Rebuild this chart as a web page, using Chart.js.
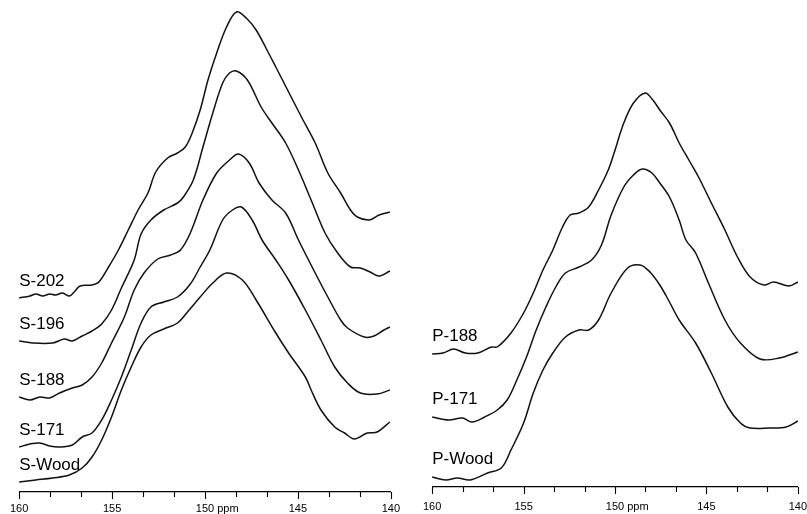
<!DOCTYPE html>
<html>
<head>
<meta charset="utf-8">
<script src="https://cdn.jsdelivr.net/npm/chart.js@4.4.0/dist/chart.umd.min.js"></script>
<style>
  html, body { margin: 0; padding: 0; background: #fff; overflow: hidden; }
  .panel { position: absolute; top: 0; width: 410px; height: 514px; }
  #leftPanel { left: 0; }
  #rightPanel { left: 410px; }
</style>
</head>
<body>
<div class="panel" id="leftPanel"><canvas id="leftChart" width="410" height="514"></canvas></div>
<div class="panel" id="rightPanel"><canvas id="rightChart" width="410" height="514"></canvas></div>
<script>
// Axis ticks (ppm)
const MAJOR_TICKS = [160, 155, 150, 145, 140];
const MINOR_STEP = 5 / 3;

// Left panel: S series (chemical shift in ppm, intensity above the axis)
const S202_PPM = [160.00, 159.42, 159.10, 158.73, 158.36, 158.04, 157.67, 157.30, 157.04, 156.72, 156.08, 155.71, 155.19, 154.66, 154.13, 153.60, 153.07, 152.65, 152.01, 151.48, 151.06, 150.69, 150.26, 149.84, 149.37, 148.84, 148.31, 147.78, 147.25, 146.72, 146.19, 145.50, 144.81, 144.07, 143.39, 142.70, 142.17, 141.80, 141.16, 140.63, 140.05];
const S202_INT = [194, 196, 198, 196, 198, 197, 199, 196, 200, 206, 207, 210, 225, 242, 262, 282, 299, 320, 334, 339, 345, 359, 382, 412, 439, 465, 480, 474, 462, 444, 425, 400, 375, 349, 319, 299, 282, 275, 272, 277, 280];

const S196_PPM = [160.00, 159.26, 158.20, 157.57, 157.14, 156.61, 156.08, 155.56, 155.03, 154.50, 153.81, 153.44, 152.91, 152.22, 151.48, 151.16, 150.63, 150.11, 149.58, 149.05, 148.68, 148.31, 147.72, 146.98, 146.40, 145.66, 144.97, 144.29, 143.54, 142.86, 142.17, 141.64, 141.11, 140.63, 140.05];
const S196_INT = [151, 149, 149, 153, 151, 156, 161, 168, 182, 204, 232, 258, 272, 282, 289, 295, 312, 345, 379, 409, 419, 421, 412, 385, 369, 349, 322, 292, 259, 239, 225, 224, 220, 216, 221];

const S188_PPM = [160.00, 159.42, 158.89, 158.36, 157.83, 157.14, 156.61, 156.08, 155.56, 155.03, 154.34, 153.81, 153.28, 152.54, 151.85, 151.32, 150.79, 150.11, 149.37, 148.68, 148.20, 147.62, 147.09, 146.40, 145.66, 144.97, 144.07, 143.39, 142.70, 142.33, 141.43, 140.90, 140.37, 140.05];
const S188_INT = [95, 92, 95, 94, 99, 104, 107, 115, 129, 149, 175, 202, 219, 233, 237, 242, 259, 292, 319, 332, 338, 329, 309, 292, 279, 252, 219, 195, 172, 164, 155, 156, 162, 165];

const S171_PPM = [160.00, 159.42, 158.89, 158.36, 157.83, 157.14, 156.61, 156.08, 155.56, 155.03, 154.50, 153.97, 153.44, 152.91, 152.22, 151.48, 150.79, 150.26, 149.74, 149.05, 148.52, 148.04, 147.46, 146.93, 146.19, 145.50, 144.60, 143.76, 143.02, 142.33, 141.64, 140.74, 140.05];
const S171_INT = [45, 48, 49, 46, 45, 47, 55, 59, 72, 92, 115, 142, 169, 185, 190, 195, 208, 225, 242, 272, 282, 285, 272, 252, 232, 212, 182, 152, 125, 109, 99, 98, 102];

const SWOOD_PPM = [160.00, 159.10, 158.20, 157.30, 156.61, 156.08, 155.56, 155.03, 154.50, 153.97, 153.44, 152.91, 152.22, 151.48, 150.90, 150.26, 149.58, 148.84, 147.99, 147.25, 146.19, 145.50, 144.60, 144.29, 143.76, 143.02, 142.49, 141.96, 141.27, 140.74, 140.05];
const SWOOD_INT = [10, 12, 14, 17, 24, 35, 52, 75, 102, 125, 145, 157, 163, 169, 181, 195, 209, 219, 212, 192, 159, 139, 115, 102, 82, 65, 59, 53, 59, 60, 70];

// Right panel: P series
const P188_PPM = [160.00, 159.41, 158.83, 158.19, 157.50, 156.76, 156.44, 155.69, 155.00, 154.47, 153.94, 153.40, 152.87, 152.45, 151.97, 151.44, 150.90, 150.37, 150.05, 149.52, 148.99, 148.35, 147.93, 147.55, 147.02, 146.49, 145.96, 145.43, 144.73, 143.99, 143.30, 142.61, 141.86, 141.33, 140.48, 140.00];
const P188_INT = [133, 134, 138, 134, 134, 140, 140, 154, 174, 194, 217, 237, 260, 272, 274, 280, 297, 317, 334, 364, 384, 394, 387, 377, 364, 344, 327, 310, 284, 257, 230, 210, 202, 205, 201, 205];

const P171_PPM = [160.00, 159.10, 158.35, 157.82, 157.13, 156.44, 155.90, 155.37, 154.84, 154.31, 153.78, 153.24, 152.71, 151.97, 151.28, 150.74, 150.21, 149.52, 148.99, 148.51, 147.98, 147.55, 147.02, 146.49, 146.12, 145.59, 144.89, 143.99, 143.14, 142.07, 141.01, 140.00];
const P171_INT = [70, 67, 69, 65, 70, 77, 87, 107, 130, 157, 180, 200, 214, 220, 227, 242, 272, 300, 312, 318, 314, 304, 290, 267, 247, 234, 204, 167, 144, 128, 129, 135];

const PWOOD_PPM = [160.00, 159.26, 158.62, 157.93, 156.97, 156.22, 155.69, 155.00, 154.47, 153.94, 153.40, 152.71, 151.97, 151.44, 150.90, 150.21, 149.31, 148.62, 148.09, 147.55, 147.02, 146.49, 145.59, 144.73, 143.83, 143.14, 142.61, 141.54, 140.64, 140.00];
const PWOOD_INT = [10, 7, 9, 7, 14, 19, 37, 64, 94, 117, 134, 150, 157, 157, 167, 194, 219, 222, 215, 202, 185, 167, 144, 114, 80, 64, 59, 59, 60, 66];

const FONT_FAMILY = '"Liberation Sans", Arial, Helvetica, sans-serif';

// Build {x, y} points for a scatter-style line dataset
function makeDataset(label, ppm, intensity) {
    return {
        label: label,
        data: ppm.map((p, i) => ({ x: p, y: intensity[i] })),
        borderColor: '#111',
        borderWidth: 1.5,
        pointRadius: 0,
        tension: 0.35,
        fill: false,
        clip: false
    };
}

// Tick list: majors every 5 ppm, minors in between
function buildTicks() {
    const ticks = [];
    for (let i = 0; i < MAJOR_TICKS.length - 1; i++) {
        const a = MAJOR_TICKS[i];
        ticks.push({ value: a, major: true });
        for (let k = 1; k < 3; k++) {
            ticks.push({ value: a - k * MINOR_STEP, major: false });
        }
    }
    ticks.push({ value: MAJOR_TICKS[MAJOR_TICKS.length - 1], major: true });
    return ticks;
}

// Tick marks, "ppm" unit and the sample names next to each trace
const spectraDecor = {
    id: 'spectraDecor',
    afterDraw(chart, args, opts) {
        const ctx = chart.ctx;
        const xs = chart.scales.x;
        const area = chart.chartArea;
        ctx.save();
        ctx.strokeStyle = '#000';
        ctx.lineWidth = 1.1;
        xs.ticks.forEach(t => {
            const px = Math.round(xs.getPixelForValue(t.value)) + 0.5;
            const len = t.major ? 7 : 5;
            ctx.beginPath();
            ctx.moveTo(px, area.bottom);
            ctx.lineTo(px, area.bottom + len);
            ctx.stroke();
        });

        // unit after the 150 label
        const items = xs.getLabelItems();
        const mid = items.find(it => it.label === '150');
        if (mid) {
            ctx.font = mid.font.string;
            ctx.fillStyle = '#000';
            ctx.textAlign = 'left';
            ctx.textBaseline = mid.options.textBaseline;
            const w = ctx.measureText('150').width;
            const tx = mid.options.translation[0] + w / 2 + 3;
            ctx.fillText('ppm', tx, mid.options.translation[1] + mid.textOffset);
        }

        // sample names
        ctx.font = '17px ' + FONT_FAMILY;
        ctx.fillStyle = '#000';
        ctx.textAlign = 'left';
        ctx.textBaseline = 'alphabetic';
        chart.data.datasets.forEach((ds, i) => {
            const first = chart.getDatasetMeta(i).data[0];
            ctx.fillText(ds.label, area.left, first.y - opts.labelGap);
        });
        ctx.restore();
    }
};

function initChart(canvasId, datasets, yMax, axisHeight, labelPad, sidePad, labelGap) {
    const ctx = document.getElementById(canvasId).getContext('2d');
    return new Chart(ctx, {
        type: 'line',
        data: { datasets: datasets },
        options: {
            responsive: false,
            animation: false,
            devicePixelRatio: 1,
            layout: {
                padding: { left: sidePad[0], right: sidePad[1], top: 0, bottom: 0 }
            },
            plugins: {
                legend: { display: false },
                tooltip: { enabled: false },
                spectraDecor: { labelGap: labelGap }
            },
            scales: {
                x: {
                    type: 'linear',
                    min: 140,
                    max: 160,
                    reverse: true,
                    afterBuildTicks: s => { s.ticks = buildTicks(); },
                    afterFit: s => { s.height = axisHeight; },
                    grid: { display: false, drawTicks: false },
                    border: { display: true, color: '#000', width: 1.2 },
                    ticks: {
                        autoSkip: false,
                        maxRotation: 0,
                        padding: labelPad,
                        color: '#000',
                        font: { family: FONT_FAMILY, size: 11 },
                        callback: (v, i, ticks) => ticks[i].major ? String(Math.round(v)) : ''
                    }
                },
                y: {
                    type: 'linear',
                    display: false,
                    min: 0,
                    max: yMax
                }
            }
        },
        plugins: [spectraDecor]
    });
}

document.addEventListener('DOMContentLoaded', function() {
    initChart('leftChart', [
        makeDataset('S-202', S202_PPM, S202_INT),
        makeDataset('S-196', S196_PPM, S196_INT),
        makeDataset('S-188', S188_PPM, S188_INT),
        makeDataset('S-171', S171_PPM, S171_INT),
        makeDataset('S-Wood', SWOOD_PPM, SWOOD_INT)
    ], 492, 22, 10, [16, 16], 12);

    initChart('rightChart', [
        makeDataset('P-188', P188_PPM, P188_INT),
        makeDataset('P-171', P171_PPM, P171_INT),
        makeDataset('P-Wood', PWOOD_PPM, PWOOD_INT)
    ], 487, 27, 13, [16, 18], 13);
});
</script>
</body>
</html>
